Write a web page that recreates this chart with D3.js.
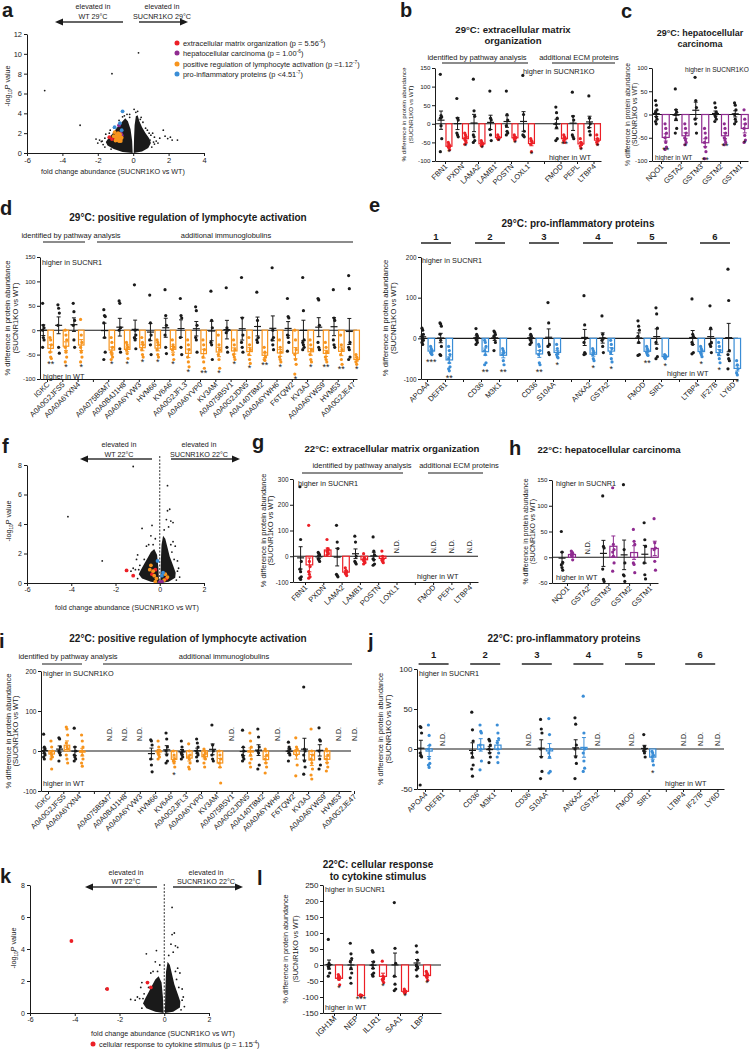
<!DOCTYPE html>
<html>
<head>
<meta charset="utf-8">
<script src="https://cdn.jsdelivr.net/npm/d3@7"></script>
<style>
  body { margin: 0; background: #fff; }
  svg { font-family: "Liberation Sans", Arial, Helvetica, sans-serif; }
</style>
</head>
<body>
<svg id="fig" width="749" height="1050"></svg>
<script>
const RED = '#ec1f26', PURPLE = '#8f2b90', ORANGE = '#f7941d', BLUE = '#3a8dd6', INK = '#1a1a1a';

// ---------- volcano data (fold change, -log10 P) ----------
// dense core of each volcano, read as an outline of the black cloud
const a_cloudL = [[-0.03,0],[-0.06,1.2],[-0.15,2.4],[-0.3,3.2],[-0.45,3.5],[-0.65,3.1],[-0.9,2.6],[-1.15,2.0],[-1.4,1.5],[-1.55,1.1],[-1.45,0.75],[-1.1,0.4],[-0.6,0.1]];
const a_cloudR = [[0.03,0],[0.05,1.6],[0.08,2.8],[0.15,3.7],[0.25,3.8],[0.35,3.2],[0.5,2.6],[0.7,2.0],[0.9,1.5],[1.0,1.0],[0.85,0.5],[0.5,0.15]];
const a_black = [[-5,6.3],[-1.2,8.0],[0.3,10.1],[-3,2.8],[-2.1,1.4],[-1.8,1.15],[-1.55,1.9],[-1.9,1.3],[-1.3,2.3],[-1.1,2.55],[-0.5,3.75],[-0.35,3.9],[0.05,4.4],[0.25,4.2],[0.55,3.1],[0.7,2.5],[0.9,2.0],[1.1,2.0],[1.2,1.6],[1.5,1.5],[1.7,2.3],[1.8,1.7],[1.95,1.45],[2.1,1.6],[2.2,1.3],[2.5,1.3],[1.3,1.2],[1.0,1.8],[-1.7,0.85],[-2.0,1.0],[-0.8,3.3],[-0.6,3.65],[0.15,4.1],[-0.2,3.6],[1.15,1.1],[-1.6,1.5],[0.8,2.3],[0.4,3.4],[-1.6,0.6],[-1.75,1.2],[-1.35,2.0],[1.05,0.6],[1.2,0.9],[-0.2,3.9],[0.45,3.6],[-1.25,0.4],[1.4,1.0],[0.95,1.3]];
const a_red = [[-1.35,1.6],[-1.2,1.4],[-0.9,1.9],[-1.0,1.5]];
const a_purple = [[-0.8,2.8],[-0.7,2.0],[-0.65,1.8]];
const a_orange = [[-1.05,2.1],[-0.95,1.8],[-0.9,1.6],[-0.85,2.0],[-0.8,1.5],[-0.8,1.2],[-0.75,1.7],[-0.7,1.4],[-0.9,1.3],[-1.0,1.65],[-0.65,1.55],[-0.85,1.75],[-0.75,1.9],[-1.1,1.7],[-0.95,1.4],[-1.0,1.25],[-0.7,1.2]];
const a_blue = [[-0.6,4.2],[-0.75,3.0],[-1.05,2.6],[-0.65,2.3]];
const legendNames = ['extracellular matrix organization (p = 5.56', 'hepatocellular carcinoma (p = 1.00', 'positive regulation of lymphocyte activation (p =1.12', 'pro-inflammatory proteins (p <4.51'];
const legendExp = ['-6', '-6', '-7', '-7'];

const c22_cloudL = [[-0.03,0],[-0.06,1.0],[-0.12,1.9],[-0.25,2.3],[-0.4,2.1],[-0.55,1.7],[-0.7,1.3],[-0.85,0.9],[-0.95,0.6],[-0.8,0.3],[-0.4,0.08]];
const c22_cloudR = [[0.03,0],[0.05,1.5],[0.08,2.6],[0.15,3.2],[0.25,3.0],[0.35,2.4],[0.45,1.8],[0.6,1.2],[0.72,0.7],[0.7,0.35],[0.4,0.08]];
const c22_black = [[-4.15,4.5],[-2.6,1.5],[-1.2,7.9],[-0.8,3.7],[-1.5,0.85],[-1.0,1.9],[-1.05,1.6],[-0.4,3.2],[-0.35,3.9],[-0.2,3.0],[0.35,6.6],[0.45,5.0],[0.35,4.9],[0.5,4.2],[0.6,4.1],[0.3,4.3],[0.4,3.8],[0.7,2.5],[0.8,1.5],[0.85,1.0],[0.9,0.4],[0.6,2.8],[-1.2,1.0],[-1.3,0.8],[-0.6,2.5],[-0.5,2.6],[0.2,3.6],[-0.9,1.2],[-1.1,0.9],[0.55,2.1],[-1.0,0.3],[-0.95,0.9],[0.75,0.2],[0.8,0.8],[-0.7,1.6],[0.5,2.6],[-0.3,2.6],[0.65,1.6]];
const f_red = [[-1.5,0.85],[-1.2,0.5],[-0.35,0.6],[-0.2,0.9],[0.3,0.3]];
const f_orange = [[-0.4,1.2],[-0.3,0.8],[-0.25,0.5],[-0.15,0.3],[-0.2,0.1],[0.35,0.4],[0.2,0.2],[0.05,0.05],[-0.45,0.9],[0.25,0.6]];
const f_blue = [[-0.1,1.5],[0.1,0.5],[0.15,0.7]];
const f_purple = [[0,0.05],[0.1,0.1]];
const k_red = [[-4.15,4.5],[-2.55,1.5],[-0.75,1.9],[-0.6,1.6]];

// ---------- protein panels: % difference, one array of animals per category ----------
const ecmCats = ['FBN1','PXDN','LAMA2','LAMB1','POSTN','LOXL1','','FMOD','PEPL','LTBP4'];
const ecm29WT = [[133,22,18,15,-5,-40,-75],[68,15,10,-25,-30,-35],[120,35,20,-30,-35,-45,-50],[88,15,10,-15,-30,-45],[88,25,10,-5,-20,-25,-30],[130,25,-20,-30,-32,-35],null,[45,30,15,0,-10,-40,-45],[85,20,10,-30,-35,-40],[75,15,0,-10,-20,-30]];
const ecm29KO = [[-50,-55,-60,-62,-65,-70],[-25,-30,-35,-40,-45,-50,-55],[-45,-50,-55,-58,-60],[-30,-35,-38,-40,-42],[-30,-35,-38,-40,-45],[-40,-45,-50,-55,-75],null,[-30,-35,-40,-45,-50],[-40,-50,-55,-60,-65],[-30,-40,-45,-50,-55]];
const ecm29Sig = ['*','*','*','*','*','*','','**','*','*'];
const ecm22WT = [[270,65,-20,-50,-60,-80,-85,-90],[15,10,5,-10,-15,-20],[120,55,30,-70,-75,-80],[78,55,0,-20,-25,-30],[75,20,5,-10,-15,-30,-35],null,null,null,null,null];
const ecm22KO = [[120,-20,-40,-60,-70,-80,-85],[65,30,25,20,15,10,5],[-45,-55,-60,-65,-70,-75],[10,-5,-10,-15,-20,-25,-30],[20,0,-10,-15,-20,-25],null,null,null,null,null];

const hepCats = ['NQO1','GSTA2','GSTM3','GSTM2','GSTM1'];
const hep29WT = [[30,20,10,5,-5,-10,-15,-20],[55,10,5,0,-10,-30,-40],[80,30,15,-10,-20,-40],[25,15,5,0,-5,-10,-15],[25,20,10,0,-10,-15,-20]];
const hep29KO = [[-20,-30,-40,-50,-60,-70,-75],[-20,-30,-40,-50,-55,-60,-65],[-30,-40,-50,-60,-70,-80,-95],[-20,-30,-40,-50,-55,-60,-65],[10,-10,-20,-30,-45,-55,-60]];
const hep29Sig = ['**','*','**','**','*'];
const hep22WT = [[50,10,-10,-15,-20,-25],null,[119,21,18,-23,-43,-47],[141,15,-11,-34,-36,-47],[67,34,21,-11,-34,-42]];
const hep22KO = [[12,10,8,5,2,-5],null,[135,25,15,10,2,-11,-27],[54,31,25,-11,-14,-30],[75,28,18,15,-8,-25]];

const lymphCats = ['IGKC','A0A0G2JFS5','A0A0A6YXN4','','A0A075B5M7','A0A0B4J1H8','A0A0A6YVW3','HVM66','KV6A6','A0A0G2JFL3','A0A0A6YVP0','KV3AM','A0A075B5V1','A0A0G2JDN5','A0A140T8M2','A0A0A6YWH6','F6TQW2','KV3AJ','A0A0A6YWS9','HVM53','A0A0G2JE47'];
const lymph29WT = [[55,10,5,0,-15,-20,-35],[52,45,35,10,-35,-47],[55,38,20,10,-20,-35],null,[42,30,28,15,-15,-45,-60],[60,55,5,0,-38,-45],[93,0,-10,-15,-20,-38],[72,15,-10,-20,-30,-50],[83,30,10,-10,-35,-48],[65,30,25,-15,-35,-50],[48,40,10,-15,-20,-45],[80,20,5,-25,-30,-60],[87,5,0,-5,-35,-45],[108,25,-10,-25,-35,-45],[78,20,-15,-20,-25],[128,0,-15,-20,-30,-40],[65,28,25,-10,-15,-25,-43],[108,40,-20,-25,-30,-35,-40],[65,62,10,-25,-35,-40],[83,25,20,-20,-30,-35],[112,85,-25,-35,-40,-55,-60]];
const lymph29KO = [[-15,-20,-30,-45,-55,-58],[0,-10,-20,-35,-45,-55,-65],[22,-10,-25,-35,-45,-55,-65],null,[-15,-25,-35,-45,-50,-55,-60],[-25,-30,-35,-40,-48,-58],[-15,-25,-30,-40,-50,-55],[-20,-25,-30,-40,-50,-55],[-20,-30,-35,-40,-50,-60],[-20,-30,-40,-55,-65,-75],[-20,-30,-40,-55,-65,-78],[-10,-30,-40,-50,-60,-78],[-20,-30,-40,-50,-55,-60],[-15,-30,-40,-50,-60,-68],[-35,-45,-55,-60,-62],[-20,-35,-45,-55,-60,-65],[0,-20,-40,-50,-60,-70,-90],[-20,-30,-40,-50,-60,-65],[-25,-35,-45,-55,-60,-65],[-10,-30,-40,-50,-60,-70],[-50,-55,-60,-65,-70]];
const lymph29Sig = ['**','*','*','','*','*','*','*','*','*','**','*','*','*','**','*','*','*','**','**','*'];
const lymph22WT = [[42,10,5,0,-5,-10,-15,-20],[33,30,10,0,-5,-10,-25],[57,10,0,-10,-15,-20,-25],null,null,null,null,[28,25,15,-20,-35,-52],[45,30,10,0,-10,-25,-30],[25,10,0,-5,-10,-15,-20],[30,20,10,0,-5,-10,-15,-25],[65,15,0,-10,-20,-25],null,[52,10,0,-10,-15,-20,-25],[55,35,10,0,-5,-35,-45],null,[22,10,5,0,-5,-10,-25],[160,5,0,-10,-25,-40,-58],[58,28,25,0,-20,-35,-45],null,null];
const lymph22KO = [[25,10,0,-5,-10,-15,-20,-45],[60,55,40,20,10,5,-10,-20,-30],[40,25,10,0,-10,-20,-30,-38],null,null,null,null,[25,10,0,-5,-10,-15,-20],[0,-10,-20,-25,-30,-40],[18,0,-10,-15,-20,-30,-40,-45],[5,0,-5,-10,-15,-20,-30,-40],[0,-10,-20,-30,-40,-80],null,[45,25,10,0,-10,-20,-30,-40],[5,0,-10,-20,-30,-40,-55],null,[33,10,5,0,-10,-35,-62],[55,0,-10,-20,-30,-45,-60,-70],[5,0,-10,-20,-30,-40,-50],null,null];
const lymph22Sig = ['','','','','','','','','*','','','','','','','','','','','',''];

const inflamCats = ['APOA4','DEFB1','','CD36','M3K1','','CD36','S10AA','','ANXA2','GSTA2','','FMOD','SIR1','','LTBP4','IF27B','LY6D'];
const inflamGroups = [[0,1],[3,4],[6,7],[9,10],[12,13],[15,16,17]];
const inflam29WT = [[25,20,10,5,0,-5,-10,-15],[38,35,30,10,-5,-20,-40,-42],null,[24,10,5,0,-5,-10,-15],[18,15,10,5,0,-10,-30],null,[24,10,5,0,-5,-10,-15],[88,38,-15,-20,-35,-40],null,[105,33,0,-10,-35,-38,-40],[55,10,0,-5,-20,-35],null,[43,30,20,5,-10,-40,-42],[75,60,25,-10,-25,-45,-50],null,[97,10,5,-10,-15,-35,-38],[80,25,-10,-15,-20,-35],[170,93,-30,-40,-50,-55,-75]];
const inflam29KO = [[-20,-25,-30,-35,-38,-40],[-20,-30,-40,-50,-60,-70,-75,-80],null,[-5,-10,-20,-30,-40,-60,-65],[-25,-30,-35,-40,-55,-65],null,[-15,-20,-30,-40,-60,-65],[-15,-25,-35,-40,-45,-48],null,[-25,-30,-35,-40,-50,-55],[-5,-15,-25,-35,-50,-58],null,[-20,-25,-30,-35,-40,-42],[-40,-42,-45,-48,-50],null,[-20,-25,-30,-35,-40,-45],[-10,-20,-30,-40,-50,-60],[-55,-65,-75,-85,-90]];
const inflam29Sig = ['***','**','','**','**','','**','*','','*','*','','**','*','','*','*','*'];
const inflam22WT = [[28,27,20,-5,-8,-10,-45],null,null,[46,24,10,-5,-10,-20,-25,-34],[12,10,5,0,-5,-10,-17],null,null,[37,25,20,0,-10,-28,-37],null,[39,31,5,0,-10,-18,-37],null,null,null,[18,3,0,-2,-5,-10],null,null,null,null];
const inflam22KO = [[30,17,5,0,-12,-18,-20,-23],null,null,[30,22,20,5,0,-15,-26],[30,20,13,8,0,-5,-10,-17],null,null,[38,18,0,-5,-10,-28,-30],null,[66,20,0,-5,-15,-24,-28],null,null,null,[-3,-5,-8,-10,-15,-20],null,null,null,null];
const inflam22Sig = ['','','','','','','','','','','','','','*','','','',''];

const cytoCats = ['IGH1M','NEP','IL1R1','SAA1','LBP'];
const cyto22WT = [[80,5,0,-5,-10,-25,-35],[68,35,20,10,-10,-25,-40,-57],[45,40,10,0,-10,-25,-30,-35],[195,52,5,-35,-60,-75,-80],[60,40,15,0,-5,-10,-15,-35]];
const cyto22KO = [[-30,-35,-38,-40,-45,-62],[-93,-95,-95,-96,-97],[12,-35,-40,-45,-50,-55],[-75,-80,-83,-85,-88],[-20,-25,-30,-35,-40,-48]];
const cyto22Sig = ['*','***','*','*','*'];

// ---------- drawing ----------
const svg = d3.select('#fig');

function styleAxis(sel, size) {
  sel.attr('font-family', null).attr('font-size', size);
  sel.select('.domain').attr('stroke', INK).attr('stroke-width', 1);
  sel.selectAll('.tick line').attr('stroke', INK).attr('stroke-width', 1);
  sel.selectAll('.tick text').attr('fill', INK);
}

function text(g, x, y, s, size, anchor = 'start', bold = false) {
  return g.append('text').attr('x', x).attr('y', y).attr('font-size', size)
    .attr('text-anchor', anchor).attr('font-weight', bold ? 'bold' : null)
    .attr('fill', INK).text(s);
}

function hline(g, x1, x2, y, w = 1, color = INK) {
  g.append('line').attr('x1', x1).attr('x2', x2).attr('y1', y).attr('y2', y)
    .attr('stroke', color).attr('stroke-width', w);
}

function errBar(g, cx, vals, y, color, withMean) {
  const m = d3.mean(vals);
  const se = d3.deviation(vals) / Math.sqrt(vals.length);
  g.append('line').attr('x1', cx).attr('x2', cx).attr('y1', y(m - se)).attr('y2', y(m + se))
    .attr('stroke', color).attr('stroke-width', 1);
  [m - se, m + se].forEach((v) => hline(g, cx - 2, cx + 2, y(v), 1, color));
  if (withMean) hline(g, cx - 3.5, cx + 3.5, y(m), 1.2, color);
}

function dots(g, cx, vals, y, color) {
  g.append('g').selectAll('circle').data(vals).join('circle')
    .attr('cx', (d, k) => cx + ((k % 3) - 1) * 0.7)
    .attr('cy', (d) => y(d))
    .attr('r', 1.6)
    .attr('fill', color);
}

function dotBar(p) {
  const g = svg.append('g');
  const n = p.cats.length;
  const y = d3.scaleLinear().domain(p.yDomain).range(p.yRange);
  const slot = d3.scaleLinear().domain([0, n - 1]).range([p.slot0, p.slot0 + (n - 1) * p.dx]);
  const xAxis = d3.scaleLinear().domain([slot.invert(p.x0), slot.invert(p.xEnd)]).range([p.x0, p.xEnd]);
  const off = Math.min(p.dx * 0.24, 5);
  const bw = Math.min(p.dx * 0.36, 7);
  const base = y(p.yDomain[0]);
  const sigGap = p.sigGap != null ? p.sigGap : 10.5;

  g.append('g').attr('transform', `translate(${p.x0},0)`)
    .call(d3.axisLeft(y).tickValues(d3.range(p.yDomain[0], p.yDomain[1] + 1, p.yStep))
      .tickFormat(String).tickSize(3).tickSizeOuter(0).tickPadding(1.5))
    .call(styleAxis, p.tickSize);
  g.append('g').attr('transform', `translate(0,${base})`)
    .call(d3.axisBottom(xAxis).tickValues(d3.range(n)).tickFormat('').tickSize(3).tickSizeOuter(0))
    .call(styleAxis, p.tickSize);
  hline(g, p.x0, p.xEnd, y(0), 1.1);

  const yc = (p.yRange[0] + p.yRange[1]) / 2;
  ['% difference in protein abundance', '(SUCNR1KO vs WT)'].forEach((s, k) => {
    g.append('text').attr('transform', `translate(${p.x0 + p.yLab[k]},${yc}) rotate(-90)`)
      .attr('text-anchor', 'middle').attr('font-size', p.yLabSize).attr('fill', INK).text(s);
  });

  p.title.forEach((s, k) => text(g, p.titleX, p.titleY[k], s, p.titleSize || 9.8, 'middle', true));
  text(g, p.hiTop[1], p.hiTop[2], p.hiTop[0], p.hiSize || 7.3);
  text(g, p.hiBot[1], p.hiBot[2], p.hiBot[0], p.hiSize || 7.3);

  (p.groups || []).forEach((gr) => {
    text(g, gr.tx, gr.ty, gr.text, 7.5, 'middle');
    hline(g, gr.l[0], gr.l[1], gr.ly, 1.1);
  });
  if (p.numbered) {
    inflamGroups.forEach((idx, k) => {
      const cx = d3.mean(idx, slot);
      text(g, cx, p.numbered.ty, String(k + 1), 9.5, 'middle', true);
      hline(g, cx - 15, cx + 15, p.numbered.ly, 1.6, '#333');
    });
  }

  p.cats.forEach((name, i) => {
    if (!name) return;
    const cx = slot(i);
    g.append('text').attr('transform', `translate(${cx + 3},${base + 6}) rotate(-45)`)
      .attr('text-anchor', 'end').attr('font-size', p.catSize || 7.5).attr('fill', INK).text(name);
    const wt = p.wt[i];
    const ko = p.ko[i];
    if (!wt) {
      g.append('text').attr('transform', `translate(${cx + 2.5},${y(0) - (p.ndGap || 3)}) rotate(-90)`)
        .attr('font-size', 7).attr('fill', INK).text('N.D.');
      return;
    }
    errBar(g, cx - off, wt, y, INK, true);
    dots(g, cx - off, wt, y, INK);
    const mk = d3.mean(ko);
    g.append('rect').attr('x', cx + off - bw / 2).attr('width', bw)
      .attr('y', Math.min(y(0), y(mk))).attr('height', Math.abs(y(mk) - y(0)))
      .attr('fill', '#fff').attr('stroke', p.color).attr('stroke-width', 1.2);
    errBar(g, cx + off, ko, y, p.color, false);
    dots(g, cx + off, ko, y, p.color);
    const sig = p.sig ? p.sig[i] : '';
    if (sig) text(g, cx + off, y(d3.min(ko)) + sigGap, sig, 9, 'middle');
  });
}

function arrow(g, a) {
  const dir = a.tip > a.tail ? 1 : -1;
  hline(g, a.tail, a.tip - dir * 6, a.y, 1.8, '#666');
  g.append('path')
    .attr('d', `M${a.tip},${a.y}L${a.tip - dir * 8},${a.y - 3.5}L${a.tip - dir * 8},${a.y + 3.5}Z`)
    .attr('fill', INK);
  a.lines.forEach((s, k) => text(g, a.tx, a.ty[k], s, 7.2, 'middle'));
}

function volcano(p) {
  const g = svg.append('g');
  const x = d3.scaleLinear().domain(p.xDomain).range([p.x0, p.x1]);
  const y = d3.scaleLinear().domain(p.yDomain).range([p.yBottom, p.yTop]);
  if (p.dashTop) {
    g.append('line').attr('x1', x(0)).attr('x2', x(0)).attr('y1', p.dashTop).attr('y2', p.yBottom)
      .attr('stroke', '#333').attr('stroke-width', 1).attr('stroke-dasharray', '2,1.5');
  }
  const shape = d3.line().x((d) => x(d[0])).y((d) => y(d[1])).curve(d3.curveLinearClosed);
  p.clouds.forEach((c) => g.append('path').attr('d', shape(c)).attr('fill', INK));
  g.append('g').selectAll('circle').data(p.black).join('circle')
    .attr('cx', (d) => x(d[0])).attr('cy', (d) => y(d[1])).attr('r', 0.9).attr('fill', INK);
  p.sets.forEach((s) => {
    g.append('g').selectAll('circle').data(s.pts).join('circle')
      .attr('cx', (d) => x(d[0])).attr('cy', (d) => y(d[1])).attr('r', 1.9).attr('fill', s.color);
  });

  g.append('g').attr('transform', `translate(${p.x0},0)`)
    .call(d3.axisLeft(y).tickValues(d3.range(p.yDomain[0], p.yDomain[1] + 0.1, 2))
      .tickFormat(String).tickSize(3).tickSizeOuter(0).tickPadding(2))
    .call(styleAxis, p.tick);
  g.append('g').attr('transform', `translate(0,${p.yBottom})`)
    .call(d3.axisBottom(x).tickValues(d3.range(p.xDomain[0], p.xDomain[1] + 0.1, 2))
      .tickFormat(String).tickSize(3).tickSizeOuter(0).tickPadding(1.5))
    .call(styleAxis, p.tick);

  text(g, p.xLab[0], p.xLab[1], 'fold change abundance (SUCNR1KO vs WT)', 7.2, 'middle');
  const yl = g.append('text').attr('transform', `translate(${p.x0 + p.yLabDx},${p.yLabY}) rotate(-90)`)
    .attr('text-anchor', 'middle').attr('font-size', 7.2).attr('fill', INK);
  yl.append('tspan').text('-log');
  yl.append('tspan').text('10').attr('font-size', 4.8).attr('dy', 2);
  yl.append('tspan').text('P value').attr('dy', -2);

  p.arrows.forEach((a) => arrow(g, a));
  return g;
}

function legendRow(g, x, y, color, name, exp) {
  g.append('circle').attr('cx', x).attr('cy', y).attr('r', 2.5).attr('fill', color);
  const t = g.append('text').attr('x', x + 6).attr('y', y + 2.6).attr('font-size', 7.4).attr('fill', INK);
  t.append('tspan').text(name);
  t.append('tspan').text(exp).attr('font-size', 4.8).attr('dy', -3);
  t.append('tspan').text(')').attr('dy', 3);
}

// a
const ga = volcano({
  x0: 27, x1: 204, xDomain: [-6, 4], yDomain: [0, 12], yBottom: 153, yTop: 34, tick: 7.5,
  xLab: [113, 174], yLabDx: -17, yLabY: 86,
  clouds: [a_cloudL, a_cloudR], black: a_black,
  sets: [{ pts: a_red, color: RED }, { pts: a_purple, color: PURPLE }, { pts: a_orange, color: ORANGE }, { pts: a_blue, color: BLUE }],
  arrows: [
    { tail: 123, tip: 55, y: 22, tx: 93, ty: [9, 19], lines: ['elevated in', 'WT 29°C'] },
    { tail: 139, tip: 188, y: 22, tx: 162, ty: [9, 19], lines: ['elevated in', 'SUCNR1KO 29°C'] }],
});
[RED, PURPLE, ORANGE, BLUE].forEach((c, k) => legendRow(ga, 177, [43, 53, 64, 74][k], c, legendNames[k], legendExp[k]));

// b, c
dotBar({
  x0: 435, xEnd: 601, slot0: 445, dx: 16.5, yDomain: [-100, 150], yRange: [161, 68], yStep: 50,
  tickSize: 6.2, yLab: [-29, -22], yLabSize: 6.2, cats: ecmCats, wt: ecm29WT, ko: ecm29KO, sig: ecm29Sig, sigGap: 5,
  color: RED, title: ['29°C: extracellular matrix', 'organization'], titleX: 513, titleY: [33, 44], titleSize: 9.6,
  hiTop: ['higher in SUCNR1KO', 523, 74], hiBot: ['higher in WT', 549, 160], hiSize: 7.4,
  groups: [{ text: 'identified by pathway analysis', tx: 477, ty: 60, l: [442, 528], ly: 63 },
    { text: 'additional ECM proteins', tx: 579, ty: 60, l: [552, 615], ly: 63 }],
});
dotBar({
  x0: 652, xEnd: 748, slot0: 661, dx: 19.75, yDomain: [-100, 100], yRange: [161, 68], yStep: 50,
  tickSize: 6.2, yLab: [-22, -15], yLabSize: 6.8, cats: hepCats, wt: hep29WT, ko: hep29KO, sig: hep29Sig, sigGap: 4,
  color: PURPLE, title: ['29°C: hepatocellular', 'carcinoma'], titleX: 700, titleY: [36, 47], titleSize: 9,
  hiTop: ['higher in SUCNR1KO', 685, 72], hiBot: ['higher in WT', 655, 160], hiSize: 6.6,
});

// d, e
dotBar({
  x0: 40, xEnd: 357, slot0: 47, dx: 15.3, yDomain: [-100, 150], yRange: [379, 257], yStep: 50,
  tickSize: 6.2, yLab: [-30, -22], yLabSize: 7.6, cats: lymphCats, wt: lymph29WT, ko: lymph29KO, sig: lymph29Sig, sigGap: 8,
  color: ORANGE, title: ['29°C: positive regulation of lymphocyte activation'], titleX: 188, titleY: [221], titleSize: 10,
  hiTop: ['higher in SUCNR1', 42, 265], hiBot: ['higher in WT', 43, 379],
  groups: [{ text: 'identified by pathway analysis', tx: 71, ty: 238, l: [43, 85], ly: 242 },
    { text: 'additional immunoglobulins', tx: 226, ty: 238, l: [97, 353], ly: 242 }],
});
dotBar({
  x0: 421, xEnd: 738, slot0: 427, dx: 18, yDomain: [-100, 200], yRange: [379, 257], yStep: 100,
  tickSize: 6.4, yLab: [-33, -25], yLabSize: 7.7, cats: inflamCats, wt: inflam29WT, ko: inflam29KO, sig: inflam29Sig,
  color: BLUE, title: ['29°C: pro-inflammatory proteins'], titleX: 578, titleY: [227], titleSize: 10,
  numbered: { ty: 240, ly: 243 },
  hiTop: ['higher in SUCNR1', 422, 263], hiBot: ['higher in WT', 667, 376],
});

// f
volcano({
  x0: 27, x1: 204, xDomain: [-6, 2], yDomain: [0, 8], yBottom: 583, yTop: 465, tick: 7,
  xLab: [127, 610], yLabDx: -16, yLabY: 521, dashTop: 456,
  clouds: [c22_cloudL, c22_cloudR], black: c22_black,
  sets: [{ pts: f_red, color: RED }, { pts: f_orange, color: ORANGE }, { pts: f_blue, color: BLUE }, { pts: f_purple, color: PURPLE }],
  arrows: [
    { tail: 152, tip: 80, y: 459, tx: 119, ty: [447, 457], lines: ['elevated in', 'WT 22°C'] },
    { tail: 171, tip: 240, y: 459, tx: 199, ty: [447, 457], lines: ['elevated in', 'SUCNR1KO 22°C'] }],
});

// g, h
dotBar({
  x0: 293, xEnd: 478, slot0: 305, dx: 18.3, yDomain: [-100, 300], yRange: [582, 479], yStep: 100,
  tickSize: 6.4, yLab: [-27, -20], yLabSize: 7.5, cats: ecmCats, wt: ecm22WT, ko: ecm22KO,
  color: RED, title: ['22°C: extracellular matrix organization'], titleX: 392, titleY: [452], titleSize: 9.6,
  hiTop: ['higher in SUCNR1', 298, 486], hiBot: ['higher in WT', 417, 579],
  groups: [{ text: 'identified by pathway analysis', tx: 362, ty: 468, l: [302, 403], ly: 473 },
    { text: 'additional ECM proteins', tx: 459, ty: 468, l: [428, 483], ly: 473 }],
});
dotBar({
  x0: 552, xEnd: 658, slot0: 567, dx: 20.7, yDomain: [-50, 150], yRange: [583, 480], yStep: 50,
  tickSize: 6.2, yLab: [-24, -17], yLabSize: 7, cats: hepCats, wt: hep22WT, ko: hep22KO,
  color: PURPLE, title: ['22°C: hepatocellular carcinoma'], titleX: 609, titleY: [453], titleSize: 9.6,
  hiTop: ['higher in SUCNR1', 556, 486], hiBot: ['higher in WT', 556, 580],
});

// i, j
dotBar({
  x0: 41, xEnd: 351, slot0: 48, dx: 15.3, yDomain: [-100, 200], yRange: [791, 671], yStep: 100,
  tickSize: 6.6, yLab: [-30, -23], yLabSize: 7.6, cats: lymphCats, wt: lymph22WT, ko: lymph22KO, sig: lymph22Sig,
  color: ORANGE, title: ['22°C: positive regulation of lymphocyte activation'], titleX: 188, titleY: [642], titleSize: 10,
  hiTop: ['higher in SUCNR1KO', 43, 676], hiBot: ['higher in WT', 43, 786], ndGap: 10,
  groups: [{ text: 'identified by pathway analysis', tx: 68, ty: 659, l: [42, 82], ly: 664 },
    { text: 'additional immunoglobulins', tx: 224, ty: 659, l: [103, 352], ly: 664 }],
});
dotBar({
  x0: 417, xEnd: 724, slot0: 425, dx: 17.2, yDomain: [-50, 100], yRange: [789, 669], yStep: 50,
  tickSize: 8, yLab: [-34, -26], yLabSize: 7.4, cats: inflamCats, wt: inflam22WT, ko: inflam22KO, sig: inflam22Sig,
  color: BLUE, title: ['22°C: pro-inflammatory proteins'], titleX: 564, titleY: [642], titleSize: 10,
  numbered: { ty: 658, ly: 664 },
  hiTop: ['higher in SUCNR1', 419, 676], hiBot: ['higher in WT', 665, 786],
});

// k
const gk = volcano({
  x0: 30, x1: 209, xDomain: [-6, 2], yDomain: [0, 8], yBottom: 1013, yTop: 885, tick: 7,
  xLab: [163, 1036], yLabDx: -14, yLabY: 948, dashTop: 884,
  clouds: [c22_cloudL, c22_cloudR], black: c22_black,
  sets: [{ pts: k_red, color: RED }],
  arrows: [
    { tail: 157, tip: 85, y: 887, tx: 126, ty: [875, 884], lines: ['elevated in', 'WT 22°C'] },
    { tail: 173, tip: 243, y: 887, tx: 206, ty: [875, 884], lines: ['elevated in', 'SUCNR1KO 22°C'] }],
});
legendRow(gk, 93, 1044, RED, 'cellular response to cytokine stimulus (p = 1.15', '-4');

// l
dotBar({
  x0: 323, xEnd: 441, slot0: 334, dx: 22, yDomain: [-150, 250], yRange: [1013, 885], yStep: 50,
  tickSize: 8, yLab: [-35, -25], yLabSize: 7.2, cats: cytoCats, wt: cyto22WT, ko: cyto22KO, sig: cyto22Sig, sigGap: 6,
  color: RED, title: ['22°C: cellular response', 'to cytokine stimulus'], titleX: 378, titleY: [868, 880], titleSize: 10,
  hiTop: ['higher in SUCNR1', 325, 892], hiBot: ['higher in WT', 325, 1010], catSize: 8,
});

// panel letters
const letters = [['a', 2, 17], ['b', 400, 17], ['c', 621, 18], ['d', 0, 215], ['e', 369, 212], ['f', 2, 453],
  ['g', 252, 449], ['h', 509, 455], ['i', -1, 648], ['j', 368, 648], ['k', 0, 883], ['l', 257, 885]];
letters.forEach(([s, x, y]) => text(svg, x, y, s, 20, 'start', true));
</script>
</body>
</html>
